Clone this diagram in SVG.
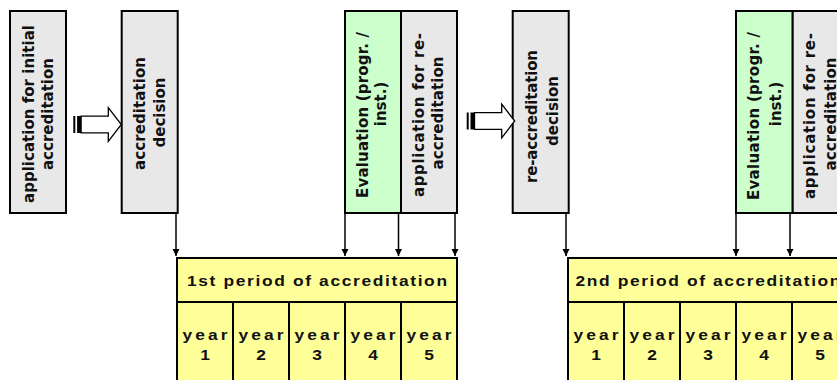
<svg xmlns="http://www.w3.org/2000/svg" xmlns:xlink="http://www.w3.org/1999/xlink" width="837" height="380" viewBox="0 0 837 380">
  <style>
    .box { stroke: #000; stroke-width: 2; }
    .grey { fill: #e8e8e8; }
    .green { fill: #ccffcc; }
    .yellow { fill: #ffff99; }
    .vlabel { font-family: "DejaVu Sans", Verdana, sans-serif; font-weight: bold; font-size: 15px; fill: #111; text-anchor: middle; }
    .tlabel { font-family: "Liberation Sans", Arial, sans-serif; font-weight: bold; font-size: 14.5px; fill: #111; text-anchor: middle; }
    .conn { stroke: #000; stroke-width: 1.5; fill: none; marker-end: url(#tip); }
    .cell { stroke: #000; stroke-width: 2; fill: none; }
  </style>
  <defs>
    <marker id="tip" markerUnits="userSpaceOnUse" markerWidth="8" markerHeight="8" refX="7" refY="4" orient="auto">
      <path d="M0,0.5 L7,4 L0,7.5 z" fill="#000"/>
    </marker>
    <!-- striped block arrow, origin at left end on the centre line -->
    <g id="blockArrow">
      <rect x="0" y="-8.5" width="2" height="17" fill="#000"/>
      <rect x="3.8" y="-8.5" width="4" height="17" fill="#000"/>
      <path d="M7.8,-8.3 L35,-8.3 L35,-16.8 L48,0 L35,16.8 L35,8.3 L7.8,8.3 Z" fill="#fff" stroke="#000" stroke-width="1.3"/>
    </g>
  </defs>

  <rect width="837" height="380" fill="#fff"/>

  <!-- process steps -->
  <g id="initial-application">
    <rect class="box grey" x="10" y="11" width="56" height="202"/>
    <text class="vlabel" transform="translate(33.5,114) rotate(-90)" textLength="178" lengthAdjust="spacing">application for initial</text>
    <text class="vlabel" transform="translate(53,114) rotate(-90)" textLength="112" lengthAdjust="spacing">accreditation</text>
  </g>

  <g id="accreditation-decision">
    <rect class="box grey" x="121.7" y="11" width="56" height="202"/>
    <text class="vlabel" transform="translate(145,113.5) rotate(-90)" textLength="113" lengthAdjust="spacing">accreditation</text>
    <text class="vlabel" transform="translate(165,112.5) rotate(-90)">decision</text>
  </g>

  <g id="evaluation-1">
    <rect class="box green" x="345" y="11" width="56" height="202"/>
    <text class="vlabel" transform="translate(367.5,115) rotate(-90)" textLength="166" lengthAdjust="spacing">Evaluation (progr. /</text>
    <text class="vlabel" transform="translate(386,104) rotate(-90)">inst.)</text>
  </g>

  <g id="reapplication-1">
    <rect class="box grey" x="401" y="11" width="56" height="202"/>
    <text class="vlabel" transform="translate(424,115) rotate(-90)" textLength="164" lengthAdjust="spacing">application for re-</text>
    <text class="vlabel" transform="translate(443,113) rotate(-90)" textLength="113" lengthAdjust="spacing">accreditation</text>
  </g>

  <g id="reaccreditation-decision">
    <rect class="box grey" x="512.7" y="11" width="56" height="202"/>
    <text class="vlabel" transform="translate(537,116.5) rotate(-90)" textLength="133" lengthAdjust="spacing">re-accreditation</text>
    <text class="vlabel" transform="translate(558,111) rotate(-90)">decision</text>
  </g>

  <g id="evaluation-2">
    <rect class="box green" x="736" y="11" width="56.7" height="202"/>
    <text class="vlabel" transform="translate(759,116) rotate(-90)" textLength="168" lengthAdjust="spacing">Evaluation (progr. /</text>
    <text class="vlabel" transform="translate(781,104) rotate(-90)">inst.)</text>
  </g>

  <g id="reapplication-2">
    <rect class="box grey" x="792.7" y="11" width="56" height="202"/>
    <text class="vlabel" transform="translate(815,116) rotate(-90)" textLength="166" lengthAdjust="spacing">application for re-</text>
    <text class="vlabel" transform="translate(836,114) rotate(-90)" textLength="113" lengthAdjust="spacing">accreditation</text>
  </g>

  <!-- accreditation periods; labels use a 1.2x horizontal stretch -->
  <g id="period-1">
    <rect class="yellow" x="177" y="258" width="280" height="140"/>
    <rect class="cell" x="177" y="258" width="280" height="140"/>
    <path class="cell" d="M177,302 H457 M233,302 V398 M289,302 V398 M345,302 V398 M401,302 V398"/>
    <text class="tlabel" transform="matrix(1.2 0 0 1 317 285.5)" textLength="216.7" lengthAdjust="spacing">1st period of accreditation</text>
    <g class="tlabel">
      <text transform="matrix(1.2 0 0 1 205 340)" textLength="37.5" lengthAdjust="spacing">year</text>
      <text transform="matrix(1.2 0 0 1 205 360)">1</text>
      <text transform="matrix(1.2 0 0 1 261 340)" textLength="37.5" lengthAdjust="spacing">year</text>
      <text transform="matrix(1.2 0 0 1 261 360)">2</text>
      <text transform="matrix(1.2 0 0 1 317 340)" textLength="37.5" lengthAdjust="spacing">year</text>
      <text transform="matrix(1.2 0 0 1 317 360)">3</text>
      <text transform="matrix(1.2 0 0 1 373 340)" textLength="37.5" lengthAdjust="spacing">year</text>
      <text transform="matrix(1.2 0 0 1 373 360)">4</text>
      <text transform="matrix(1.2 0 0 1 429 340)" textLength="37.5" lengthAdjust="spacing">year</text>
      <text transform="matrix(1.2 0 0 1 429 360)">5</text>
    </g>
  </g>

  <g id="period-2">
    <rect class="yellow" x="568" y="258" width="280" height="140"/>
    <rect class="cell" x="568" y="258" width="280" height="140"/>
    <path class="cell" d="M568,302 H848 M624,302 V398 M680,302 V398 M736,302 V398 M792,302 V398"/>
    <text class="tlabel" transform="matrix(1.2 0 0 1 708 285.5)" textLength="220.8" lengthAdjust="spacing">2nd period of accreditation</text>
    <g class="tlabel">
      <text transform="matrix(1.2 0 0 1 596 340)" textLength="37.5" lengthAdjust="spacing">year</text>
      <text transform="matrix(1.2 0 0 1 596 360)">1</text>
      <text transform="matrix(1.2 0 0 1 652 340)" textLength="37.5" lengthAdjust="spacing">year</text>
      <text transform="matrix(1.2 0 0 1 652 360)">2</text>
      <text transform="matrix(1.2 0 0 1 708 340)" textLength="37.5" lengthAdjust="spacing">year</text>
      <text transform="matrix(1.2 0 0 1 708 360)">3</text>
      <text transform="matrix(1.2 0 0 1 764 340)" textLength="37.5" lengthAdjust="spacing">year</text>
      <text transform="matrix(1.2 0 0 1 764 360)">4</text>
      <text transform="matrix(1.2 0 0 1 820 340)" textLength="37.5" lengthAdjust="spacing">year</text>
      <text transform="matrix(1.2 0 0 1 820 360)">5</text>
    </g>
  </g>

  <!-- connectors -->
  <g id="connectors">
    <use xlink:href="#blockArrow" x="73.3" y="124.5"/>
    <use xlink:href="#blockArrow" x="466.7" y="121"/>
    <line class="conn" x1="176" y1="214" x2="176" y2="256"/>
    <line class="conn" x1="345" y1="214" x2="345" y2="256"/>
    <line class="conn" x1="398.5" y1="214" x2="398.5" y2="256"/>
    <line class="conn" x1="455" y1="214" x2="455" y2="256"/>
    <line class="conn" x1="566" y1="214" x2="566" y2="256"/>
    <line class="conn" x1="736" y1="214" x2="736" y2="256"/>
    <line class="conn" x1="790" y1="214" x2="790" y2="256"/>
  </g>
</svg>
